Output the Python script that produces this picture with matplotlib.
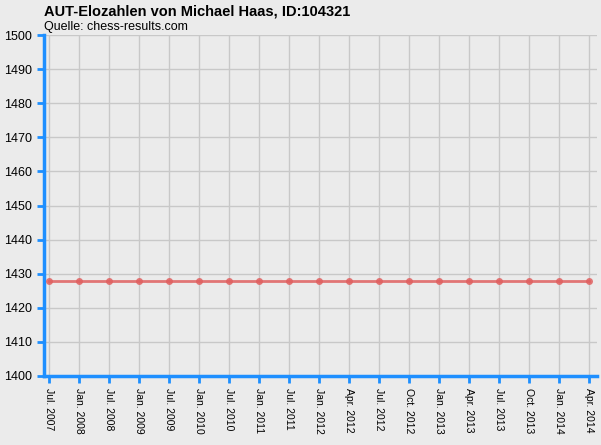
import matplotlib
matplotlib.use("Agg")
import matplotlib.pyplot as plt

# Elo data (rating periods and values)
periods = ["Jul. 2007", "Jan. 2008", "Jul. 2008", "Jan. 2009", "Jul. 2009",
           "Jan. 2010", "Jul. 2010", "Jan. 2011", "Jul. 2011", "Jan. 2012",
           "Apr. 2012", "Jul. 2012", "Oct. 2012", "Jan. 2013", "Apr. 2013",
           "Jul. 2013", "Oct. 2013", "Jan. 2014", "Apr. 2014"]
elo = [1428] * len(periods)

yticks = list(range(1400, 1501, 10))

bg = "#ebebeb"
blue = "#1e8fff"

plt.rcParams['font.family'] = ['Liberation Sans', 'DejaVu Sans']

fig = plt.figure(figsize=(6.01, 4.45), dpi=100, facecolor=bg)
ax = fig.add_axes([44/601, 69/445, 553/601, 341/445], facecolor=bg)

x = list(range(len(periods)))
ax.plot(x, elo, color="#e06060", alpha=0.85, lw=2, marker="o", ms=5,
        markeredgewidth=0, zorder=3)

ax.set_xlim(-5/30, 18 + 8/30)
ax.set_ylim(1400, 1500)
ax.set_yticks(yticks)
ax.set_xticks(x)
ax.set_xticklabels(periods, rotation=-90, fontsize=7.5)
ax.tick_params(axis="y", labelsize=9, colors=blue, labelcolor="black",
               direction="out", length=5, width=2)
ax.tick_params(axis="x", colors=blue, labelcolor="black",
               direction="out", length=5, width=2)
ax.grid(True, color="#c8c8c8", lw=1)
ax.set_axisbelow(True)

for s in ["top", "right"]:
    ax.spines[s].set_visible(False)
for s in ["left", "bottom"]:
    ax.spines[s].set_color(blue)
    ax.spines[s].set_linewidth(2.5)

fig.text(44/601, 1 - 12/445, "AUT-Elozahlen von Michael Haas, ID:104321",
         fontsize=10.5, fontweight="bold", va="center", ha="left")
fig.text(44/601, 1 - 27/445, "Quelle: chess-results.com",
         fontsize=9, va="center", ha="left")

fig.savefig("out.png", dpi=100, facecolor=bg)
